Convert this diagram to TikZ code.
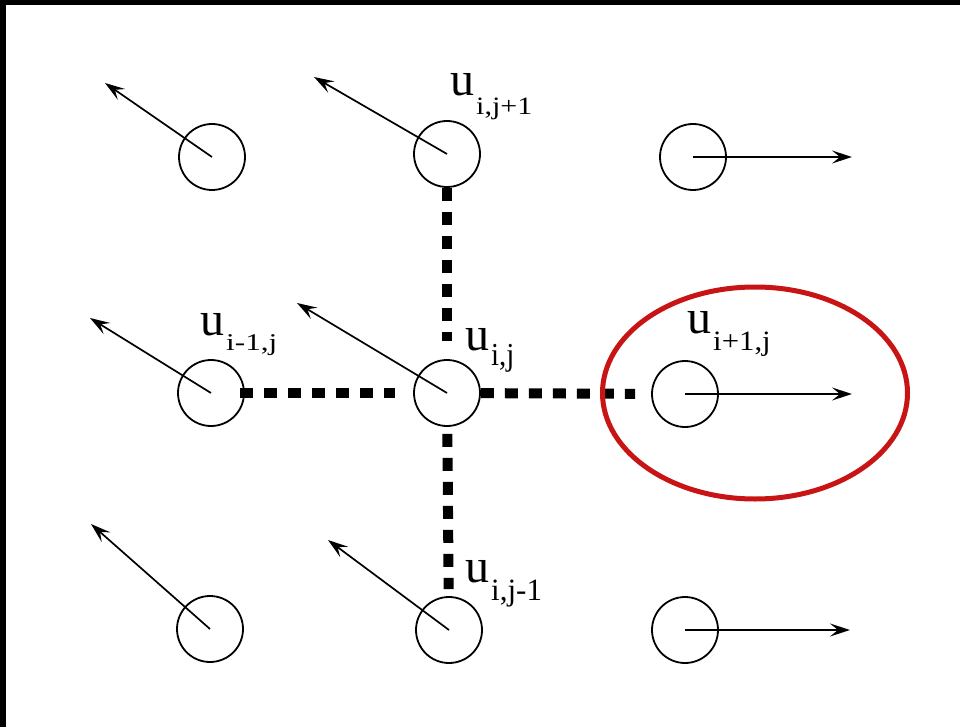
\documentclass[tikz,border=0pt]{standalone}
\usepackage{fontspec}
\setmainfont{Liberation Serif}
\usetikzlibrary{arrows.meta,shapes.geometric}
\definecolor{ringred}{RGB}{200,20,20}
% label u with a stretched subscript: #1 raise, #2 size, #3 x-stretch, #4 text
\newcommand{\ulab}[4]{{\fontsize{48}{48}\selectfont u}\hspace{2pt}\raisebox{#1}{\scalebox{#3}[1]{\fontsize{#2}{#2}\selectfont #4}}}
\begin{document}
\begin{tikzpicture}[x=1pt,y=-1pt,
  site/.style={draw,circle,line width=1.8pt,minimum size=66pt,inner sep=0pt},
  spin/.style={line width=1.7pt,-{Stealth[length=20pt,width=13pt,inset=8pt]}},
  bond/.style={line width=10pt,dash pattern=on 13pt off 11pt},
  lab/.style={anchor=base west,inner sep=0pt}]
  \useasboundingbox (0,0) rectangle (960,727);
  \fill[white] (0,0) rectangle (960,727);
  % dark frame along the top and left edges
  \fill[black] (0,0) rectangle (960,5);
  \fill[black] (0,0) rectangle (6,727);

  % lattice sites
  \node[site] (c11) at (212,157) {};
  \node[site] (c12) at (447,154) {};
  \node[site] (c13) at (693,157) {};
  \node[site] (c21) at (211,393) {};
  \node[site] (c22) at (447,393) {};
  \node[site] (c23) at (685,394) {};
  \node[site] (c31) at (210,629) {};
  \node[site] (c32) at (449,630) {};
  \node[site] (c33) at (685,630) {};

  % spin directions
  \coordinate (t11) at (105,83);
  \coordinate (t12) at (314,77);
  \coordinate (t13) at (852,157);
  \coordinate (t21) at (90,318);
  \coordinate (t22) at (297,303);
  \coordinate (t23) at (852,394);
  \coordinate (t31) at (91,524);
  \coordinate (t32) at (328,540);
  \coordinate (t33) at (850,630);
  \foreach \s in {11,12,13,21,22,23,31,32,33}
    \draw[spin] (c\s.center) -- (t\s);

  % nearest-neighbour couplings
  \draw[bond,shorten >=18pt] (c12) -- (c22);
  \draw[bond,shorten <=-5pt,shorten >=18pt] (c21) -- (c22);
  \draw[bond,shorten >=16pt] (c22) -- (c23);
  \draw[bond,shorten <=7pt,shorten >=7pt] (c22) -- (c32);

  % highlighted neighbour
  \node[draw=ringred,ellipse,line width=5pt,minimum width=305pt,minimum height=212pt,inner sep=0pt] (ring) at (755,393) {};

  % labels
  \node[lab] (l12) at (450,96) {\ulab{-19pt}{25}{1.2}{i,j+1}};
  \node[lab] (l21) at (200,335) {\ulab{-15pt}{24}{1.3}{i-1,j}};
  \node[lab] (l22) at (465,350) {\ulab{-15pt}{32}{0.9}{i,j}};
  \node[lab] (l23) at (687,333) {\ulab{-17pt}{28}{1.1}{i+1,j}};
  \node[lab] (l32) at (465,582) {\ulab{-18pt}{31}{1.0}{i,j-1}};
\end{tikzpicture}
\end{document}
